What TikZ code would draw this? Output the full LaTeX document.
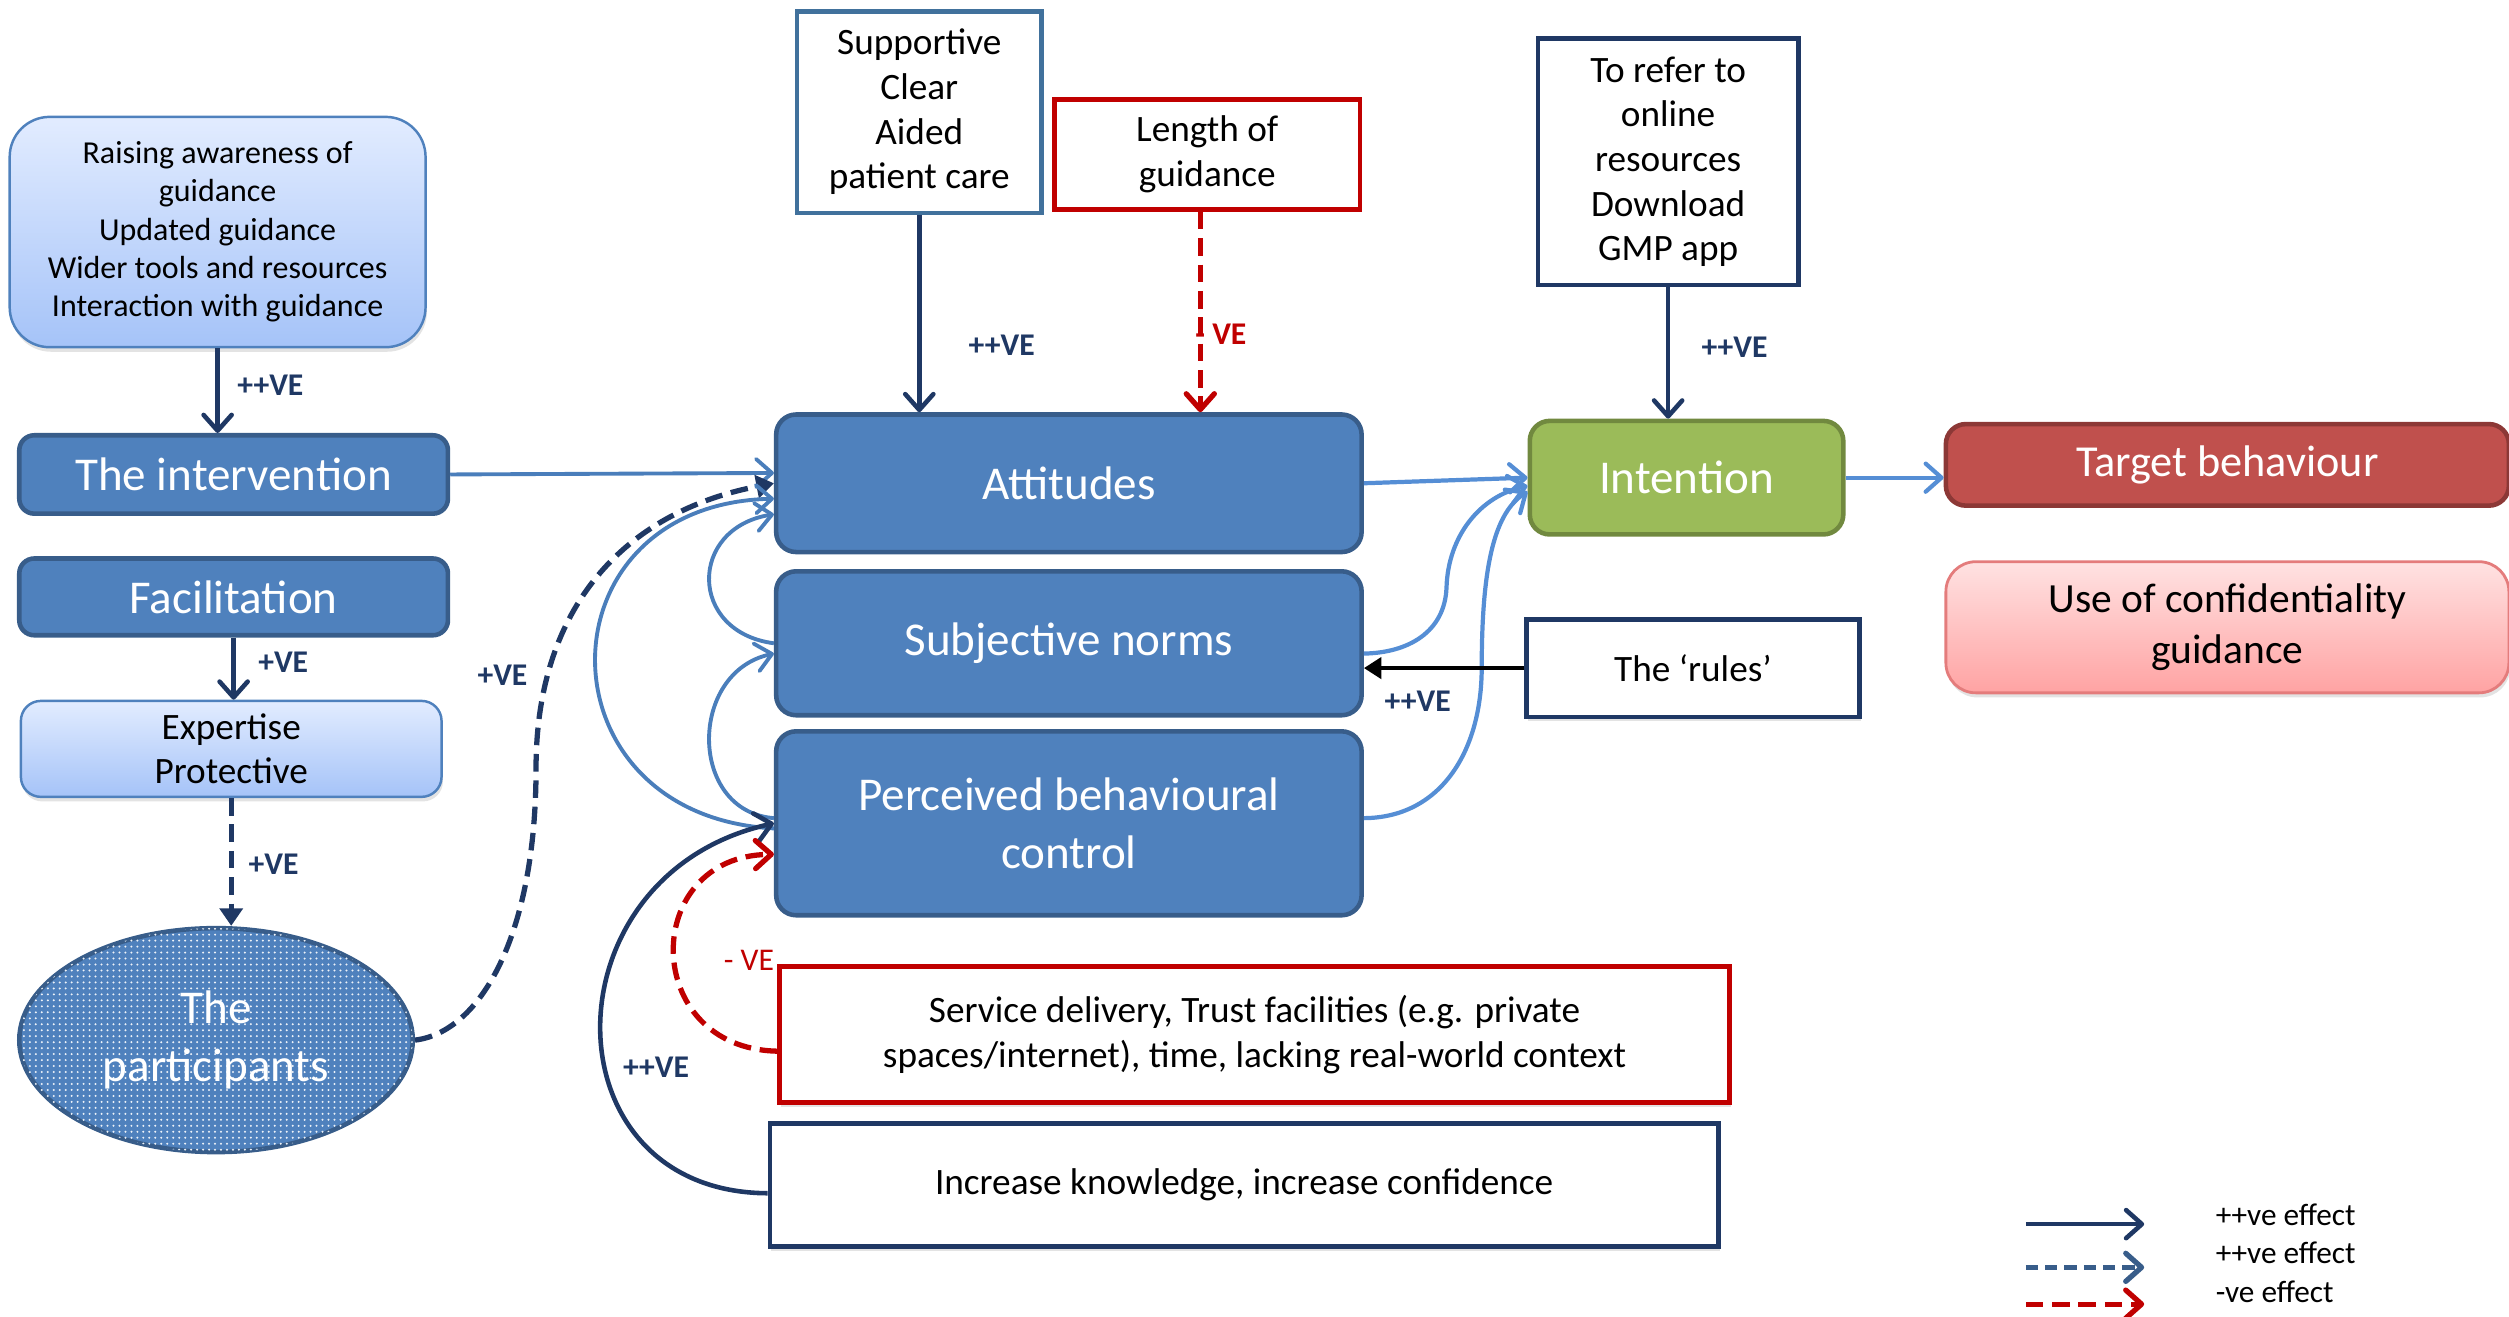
\documentclass[tikz,border=0pt]{standalone}
\usepackage{fontspec}
\setmainfont{Carlito}
\usetikzlibrary{arrows.meta,shapes.geometric,shadows,patterns.meta}

\definecolor{navy}{HTML}{1F3864}
\definecolor{negred}{HTML}{C00000}
\definecolor{boxblue}{HTML}{4F81BD}
\definecolor{boxedge}{HTML}{385D8A}
\definecolor{supedge}{HTML}{41719C}
\definecolor{linkblue}{HTML}{4A7EBB}
\definecolor{rightblue}{HTML}{558ED5}
\definecolor{intgreen}{HTML}{9BBB59}
\definecolor{greenedge}{HTML}{71893F}
\definecolor{targetred}{HTML}{C0504D}
\definecolor{targetedge}{HTML}{8C3836}
\definecolor{lighttop}{HTML}{E2ECFF}
\definecolor{lightbot}{HTML}{A5C3F8}
\definecolor{pinktop}{HTML}{FFE2E2}
\definecolor{pinkbot}{HTML}{FFA3A3}
\definecolor{pinkedge}{HTML}{E47C7C}

\newcommand{\bigtxt}{\fontsize{13.4}{16.4}\selectfont}
\newcommand{\boxtxt}{\fontsize{10.6}{12.7}\selectfont}
\newcommand{\smalltxt}{\fontsize{9.1}{10.9}\selectfont}
\newcommand{\lbltxt}{\fontsize{9}{11}\selectfont\bfseries}
\newcommand{\legtxt}{\fontsize{8.9}{10.9}\selectfont}

\begin{document}
\begin{tikzpicture}[x=0.016cm, y=-0.016cm,
    shad/.style={drop shadow={opacity=0.22,shadow xshift=0.4pt,shadow yshift=-1.3pt}},
    bigbox/.style={draw=boxedge, fill=boxblue, line width=1.3pt, rounded corners=0.2cm,
      text=white, font=\bigtxt, align=center, inner sep=0pt, minimum width=5.856cm},
    thinbox/.style={bigbox, rounded corners=0.15cm},
    lightbox/.style={draw=boxblue, line width=0.7pt, top color=lighttop, bottom color=lightbot,
      font=\smalltxt, align=center, inner sep=0pt, shad},
    outbox/.style={draw, fill=white, line width=1.3pt, font=\boxtxt, align=center, inner sep=0pt},
    chev/.style={-{Straight Barb[length=4.5pt,width=8pt,round]}},
    navyline/.style={navy, line width=1.3pt, chev},
    navydash/.style={navy, line width=1.5pt, dash pattern=on 5pt off 2.5pt, -{Triangle[length=5pt,width=6.5pt]}},
    negdash/.style={negred, line width=1.5pt, dash pattern=on 5pt off 2.5pt, chev},
    legdash/.style={boxedge, line width=1.5pt, dash pattern=on 3.5pt off 2pt, chev},
    link/.style={linkblue, line width=1.1pt, chev},
    rlink/.style={rightblue, line width=1.2pt, chev},
    rulearrow/.style={black, line width=1.3pt, -{Triangle[length=5pt,width=6pt]}},
    lbl/.style={text=navy, font=\lbltxt}]
  \useasboundingbox (0,0) rectangle (1568,823);

  % Left column
  \node[lightbox, rounded corners=0.4cm, minimum width=4.16cm, minimum height=2.304cm] (raise) at (136,145)
    {Raising awareness of\\guidance\\Updated guidance\\Wider tools and resources\\Interaction with guidance};
  \node[thinbox, minimum width=4.288cm, minimum height=0.784cm] (interv) at (146,296.5) {The intervention};
  \node[thinbox, minimum width=4.288cm, minimum height=0.768cm] (facil) at (146,373) {Facilitation};
  \node[lightbox, font=\boxtxt, rounded corners=0.2cm, minimum width=4.208cm, minimum height=0.96cm] (expert) at (144.5,468)
    {Expertise\\Protective};
  \node[ellipse, draw=boxedge, line width=1.3pt, fill=boxblue,
    postaction={pattern={Dots[distance=1.7pt,radius=0.32pt]}, pattern color=white!90!boxblue},
    text=white, font=\bigtxt, align=center, inner sep=0pt,
    minimum width=3.936cm, minimum height=2.24cm] (part) at (135,650) {The\\participants};

  % Theory of planned behaviour constructs
  \node[bigbox, minimum height=1.376cm] (att) at (668,302) {Attitudes};
  \node[bigbox, minimum height=1.44cm] (sn) at (668,402) {Subjective norms};
  \node[bigbox, minimum height=1.84cm] (pbc) at (668,514.5) {Perceived behavioural\\control};

  % Top influences
  \node[outbox, draw=supedge, minimum width=2.448cm, minimum height=2.016cm] (supp) at (574.5,70)
    {Supportive\\Clear\\Aided\\patient care};
  \node[outbox, draw=negred, minimum width=3.056cm, minimum height=1.104cm] (length) at (754.5,96.5)
    {Length of\\guidance};
  \node[outbox, draw=navy, minimum width=2.608cm, minimum height=2.464cm] (online) at (1042.5,101)
    {To refer to\\online\\resources\\Download\\GMP app};

  % Right side
  \node[bigbox, draw=greenedge, fill=intgreen, minimum width=3.136cm, minimum height=1.136cm] (intent) at (1054,298.5) {Intention};
  \node[bigbox, draw=targetedge, fill=targetred, font=\fontsize{12.6}{15}\selectfont,
    minimum width=5.632cm, minimum height=0.816cm] (target) at (1392,290.5) {Target behaviour};
  \node[draw=pinkedge, line width=0.8pt, top color=pinktop, bottom color=pinkbot, rounded corners=0.3cm,
    font=\fontsize{11.8}{14.6}\selectfont, align=center, inner sep=0pt, shad,
    minimum width=5.632cm, minimum height=1.312cm] (use) at (1392,392) {Use of confidentiality\\guidance};
  \node[outbox, draw=navy, shad, minimum width=3.328cm, minimum height=0.976cm] (rules) at (1058,417.5) {The ‘rules’};

  % Bottom boxes
  \node[outbox, draw=negred, shad, minimum width=9.504cm, minimum height=1.36cm] (serv) at (784,646.5)
    {Service delivery, Trust facilities (e.g. private\\spaces/internet), time, lacking real-world context};
  \node[outbox, draw=navy, shad, minimum width=9.488cm, minimum height=1.232cm] (incr) at (777.5,740.5)
    {Increase knowledge, increase confidence};

  % Left column arrows
  \draw[navyline] (raise.south) -- (raise.south |- interv.north);
  \draw[navyline] (facil.south) -- (facil.south |- expert.north);
  \draw[navydash] (expert.south) -- (expert.south |- part.north);
  \node[lbl] (l1) at (169,241) {++VE};
  \node[lbl] (l2) at (177,414) {+VE};
  \node[lbl] (l3) at (171,540) {+VE};

  % Into attitudes
  \draw[link] (interv.east) -- (att.178);
  \draw[navydash] (part.east) .. controls (300,645) and (335,585) .. (335,480)
    .. controls (335,380) and (390,320) .. (att.west);
  \node[lbl] (l4) at (314,422) {+VE};

  % Loops between the constructs
  \draw[link] (pbc.181) .. controls (335,510) and (335,315) .. (att.183);
  \draw[link] (sn.west) .. controls (430,395) and (430,330) .. (att.186);
  \draw[link] (pbc.179) .. controls (430,507) and (430,420) .. (sn.182);

  % Knowledge and service barriers on PBC
  \draw[navyline] (incr.181.5) .. controls (340,745) and (340,546) .. (pbc.west);
  \draw[negdash] (serv.182) .. controls (400,655) and (400,535) .. (pbc.186);
  \node[lbl] (l5) at (410,667) {++VE};
  \node[text=negred, font=\lbltxt\mdseries] (l6) at (468,600) {- VE};

  % Top arrows
  \draw[navyline] (supp.south) -- (supp.south |- att.north);
  \draw[negdash] ([xshift=-0.07cm]length.south) -- ([xshift=-0.07cm]length.south |- att.north);
  \draw[navyline] (online.south) -- (online.south |- intent.north);
  \node[lbl] (l7) at (626,216) {++VE};
  \node[text=negred, font=\lbltxt] (l8) at (763,209) {- VE};
  \node[lbl] (l9) at (1084,217) {++VE};

  % Constructs to intention
  \draw[rlink] (att.east) -- (intent.west);
  \draw[rlink] (sn.358) .. controls (880,408) and (903,395) .. (904,367)
    .. controls (905,335) and (925,310) .. (intent.183);
  \draw[rlink] (pbc.1) .. controls (900,511) and (926,470) .. (926,417)
    .. controls (926,350) and (935,320) .. (intent.185);
  \draw[rlink] (intent.east) -- (intent.east -| target.west);

  % The rules
  \draw[rulearrow] (rules.west) -- (rules.west -| sn.east);
  \node[lbl] (l10) at (886,438) {++VE};

  % Key
  \coordinate (k1) at (1266,765); \coordinate (k1e) at (1340,765);
  \coordinate (k2) at (1266,792); \coordinate (k2e) at (1340,792);
  \coordinate (k3) at (1266,815); \coordinate (k3e) at (1340,815);
  \draw[navyline] (k1) -- (k1e);
  \draw[legdash] (k2) -- (k2e);
  \draw[negdash] (k3) -- (k3e);
  \node[anchor=west, font=\legtxt] (t1) at (1377,759) {++ve effect};
  \node[anchor=west, font=\legtxt] (t2) at (1377,783) {++ve effect};
  \node[anchor=west, font=\legtxt] (t3) at (1377,807) {-ve effect};
\end{tikzpicture}
\end{document}
